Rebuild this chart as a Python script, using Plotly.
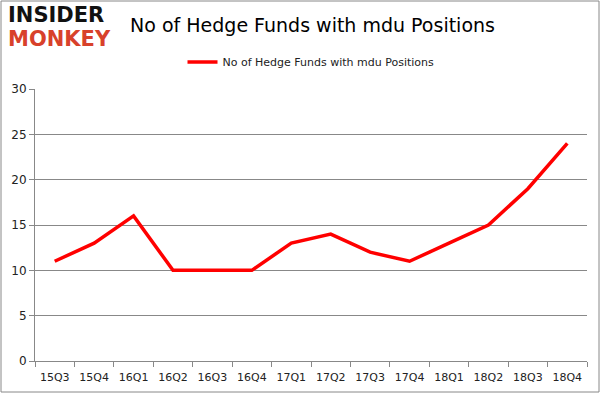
import plotly.graph_objects as go

quarters = ["15Q3", "15Q4", "16Q1", "16Q2", "16Q3", "16Q4", "17Q1", "17Q2",
            "17Q3", "17Q4", "18Q1", "18Q2", "18Q3", "18Q4"]
funds = [11, 13, 16, 10, 10, 10, 13, 14, 12, 11, 13, 15, 19, 24]
series_name = "No of Hedge Funds with mdu Positions"
y_ticks = [0, 5, 10, 15, 20, 25, 30]

W, H = 601, 395
L, R, T, B = 35, 14, 89, 34
pw, ph = W - L - R, H - T - B

fig = go.Figure()
fig.add_trace(go.Scatter(x=quarters, y=funds, mode="lines", name=series_name,
                         line=dict(color="#ff0000", width=3.5)))

fig.update_layout(
    width=W, height=H,
    margin=dict(l=L, r=R, t=T, b=B),
    paper_bgcolor="white", plot_bgcolor="white",
    font=dict(family="DejaVu Sans", size=11, color="#222"),
    showlegend=True,
    legend=dict(orientation="h", x=0.5, xanchor="center", y=1.0 + 27 / ph, yanchor="middle",
                font=dict(size=11, family="DejaVu Sans", color="#222"),
                itemwidth=30),
    title=dict(text="No of Hedge Funds with mdu Positions", x=0.52, xanchor="center",
               y=1 - 25 / H, yanchor="middle",
               font=dict(family="DejaVu Sans", size=19, color="black")),
    xaxis=dict(type="category", showgrid=False, showline=True, linecolor="#888",
               ticks="outside", tickson="boundaries", ticklen=5, tickcolor="#888",
               ticklabelstandoff=6,
               tickfont=dict(size=11), range=[-0.5, len(quarters) - 0.5]),
    yaxis=dict(range=[0, 30], tickvals=y_ticks, showgrid=True, gridcolor="#888",
               showline=True, linecolor="#888", ticks="outside", ticklen=5,
               tickcolor="#888", tickfont=dict(size=12), zeroline=False),
)

# outer border
fig.add_shape(type="rect", xref="paper", yref="paper",
              x0=(1 - L) / pw, x1=(W - 2 - L) / pw,
              y0=(H - B - (H - 3)) / ph, y1=(H - B - 1) / ph,
              line=dict(color="#888", width=1), fillcolor="rgba(0,0,0,0)", layer="below")

# logo
fig.add_annotation(text="<b>INSIDER</b>", xref="paper", yref="paper",
                   x=(6 - L) / pw, y=(H - B - 15) / ph, xanchor="left", yanchor="middle",
                   showarrow=False, font=dict(family="DejaVu Sans", size=21, color="#111"))
fig.add_annotation(text="<b>MONKEY</b>", xref="paper", yref="paper",
                   x=(6 - L) / pw, y=(H - B - 39) / ph, xanchor="left", yanchor="middle",
                   showarrow=False, font=dict(family="DejaVu Sans", size=21, color="#d8412b"))

fig.write_html("out.html", config={"displayModeBar": False},
               post_script="document.body.style.margin='0';document.body.style.overflow='hidden';")
